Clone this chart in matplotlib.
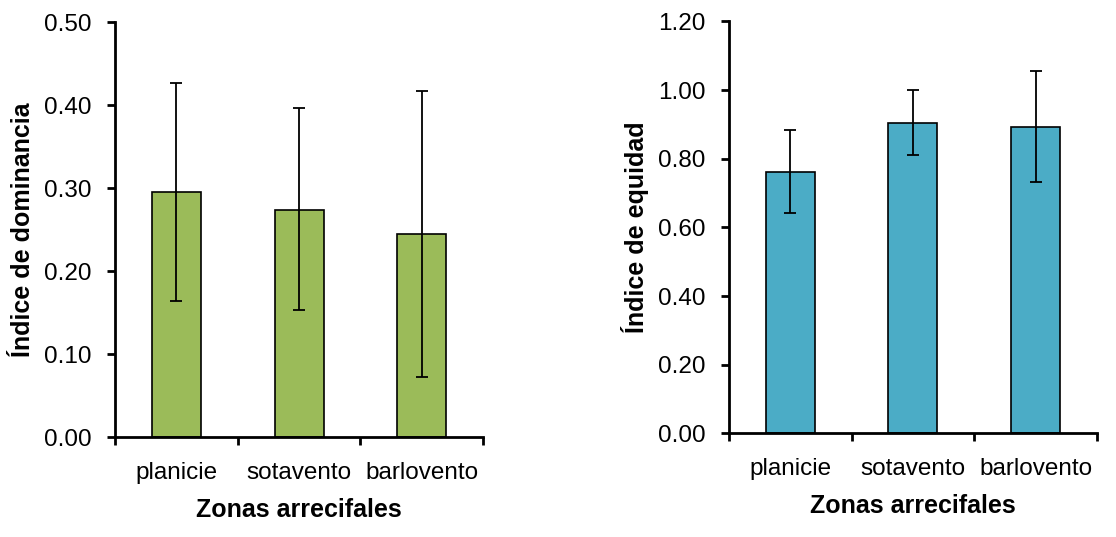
import numpy as np
import matplotlib
matplotlib.use('Agg')
import matplotlib.pyplot as plt

zonas = ['planicie', 'sotavento', 'barlovento']

# indice de dominancia
dom = [0.295, 0.274, 0.245]
dom_hi = [0.427, 0.396, 0.417]
dom_lo = [0.164, 0.153, 0.073]

# indice de equidad
equ = [0.761, 0.904, 0.894]
equ_hi = [0.883, 0.999, 1.056]
equ_lo = [0.641, 0.812, 0.733]

plt.rcParams['font.family'] = ['Liberation Sans', 'DejaVu Sans']
plt.rcParams['font.size'] = 17.5

fig = plt.figure(figsize=(11.16, 5.37), dpi=100)
ax1 = fig.add_axes([0.103, 0.186, 0.330, 0.773])
ax2 = fig.add_axes([0.653, 0.193, 0.330, 0.767])


def draw(ax, vals, hi, lo, color, ymax, ylabel):
    x = np.arange(len(zonas))
    vals = np.array(vals)
    yerr = [vals - np.array(lo), np.array(hi) - vals]
    ax.bar(x, vals, 0.4, color=color, edgecolor='black', linewidth=1.2, zorder=2)
    ax.errorbar(x, vals, yerr=yerr, fmt='none', ecolor='black', elinewidth=1.3,
                capsize=4.5, capthick=1.3, zorder=3)
    ax.set_xlim(-0.5, len(zonas) - 0.5)
    ax.set_ylim(0, ymax)
    ax.set_xticks(x)
    ax.set_xticklabels(zonas)
    ax.set_xticks(np.arange(len(zonas) + 1) - 0.5, minor=True)
    ax.tick_params(axis='x', which='major', length=0, pad=18, labelsize=17.5)
    ax.tick_params(axis='x', which='minor', length=6, width=2, direction='out')
    ax.tick_params(axis='y', length=6, width=2, direction='out', pad=11, labelsize=17.5)
    ax.yaxis.set_major_formatter(matplotlib.ticker.FormatStrFormatter('%.2f'))
    for s in ['top', 'right']:
        ax.spines[s].set_visible(False)
    for s in ['left', 'bottom']:
        ax.spines[s].set_linewidth(2)
    ax.set_xlabel('Zonas arrecifales', fontweight='bold', fontsize=18, labelpad=10)
    ax.set_ylabel(ylabel, fontweight='bold', fontsize=18, labelpad=6)


draw(ax1, dom, dom_hi, dom_lo, '#9BBB59', 0.5, 'Índice de dominancia')
ax1.set_yticks(np.arange(0, 0.51, 0.1))
draw(ax2, equ, equ_hi, equ_lo, '#4BACC6', 1.2, 'Índice de equidad')
ax2.set_yticks(np.arange(0, 1.21, 0.2))

fig.savefig('out.png', dpi=100)
